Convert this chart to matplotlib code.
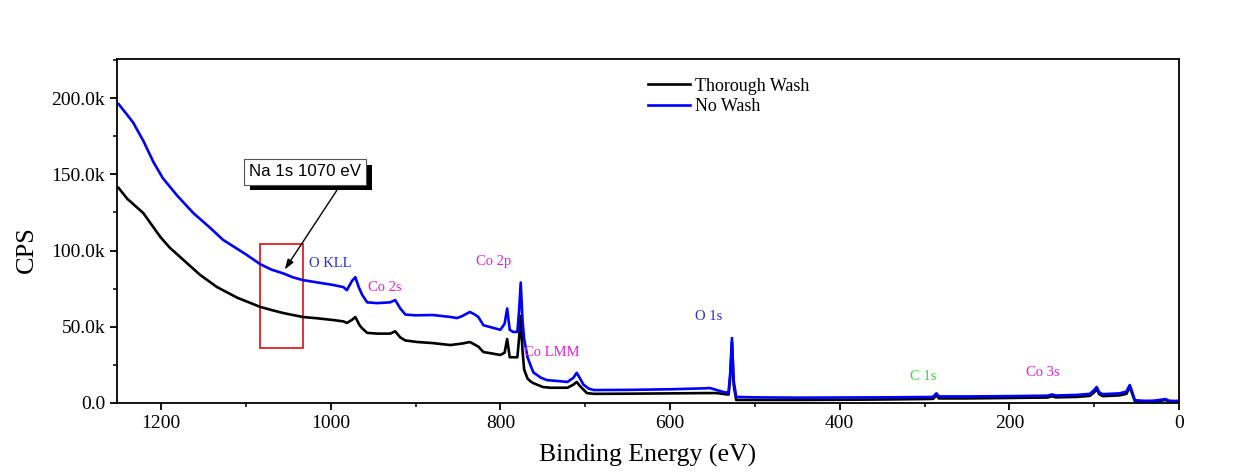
import matplotlib
matplotlib.use('Agg')
import matplotlib.pyplot as plt
from matplotlib.ticker import MultipleLocator, FuncFormatter
from matplotlib.patches import Rectangle
import matplotlib.patheffects as pe

# XPS survey, No Wash sample (binding energy in eV, counts in kCPS)
energy_nw = [1250, 1240, 1233, 1221, 1209, 1198, 1181, 1162, 1142, 1127, 1100,
             1083, 1070, 1056, 1045, 1033, 1015, 997, 985, 981, 975, 971, 967, 963,
             957, 945, 930, 924, 918, 912, 900, 880, 860, 851, 845, 836, 830, 826,
             820, 810, 800, 795, 792, 789, 785, 780, 778, 776, 774, 772, 768, 764,
             761, 752, 745, 730, 721, 714, 710, 706, 702, 696, 690, 650, 600, 560,
             553, 545, 537, 531, 529, 527, 525, 522, 500, 450, 400, 350, 300, 290,
             286, 283, 250, 200, 155, 150, 145, 120, 105, 100, 97, 94, 90, 70, 62,
             58, 55, 52, 40, 30, 20, 16, 12, 5, 0]
cps_nw = [196, 189, 184, 172, 158, 147.5, 136, 124.6, 114.8, 107, 97.5,
          91, 87.5, 85, 82.5, 80.6, 79, 77.4, 76, 74, 80, 82.5, 76, 71,
          66, 65.5, 66, 67.5, 62, 58, 57.5, 57.7, 56.5, 55.7, 57, 59.7, 58, 56.4,
          51, 49.5, 48, 52, 62, 48, 46.6, 46.6, 60, 79, 55, 42, 30, 24,
          20, 16.5, 15, 14.3, 13.8, 16.5, 19.8, 16, 12, 9.5, 8.5, 8.6, 9, 9.6,
          9.8, 8.5, 7.2, 6.8, 20, 42.6, 15, 4, 3.7, 3.5, 3.6, 3.7, 3.9, 4,
          6.3, 4.3, 4.3, 4.5, 4.8, 5.6, 4.9, 5.3, 6.0, 8.5, 10.5, 7, 5.8, 6.3, 7.5,
          11.8, 7, 1.8, 1.4, 1.5, 2.2, 2.6, 1.5, 1.3, 1.5]

# Thorough Wash sample
energy_tw = [1250, 1240, 1221, 1201, 1190, 1174, 1154, 1134, 1110, 1083, 1070, 1056,
             1033, 1015, 997, 985, 981, 975, 971, 966, 963, 957, 945, 930, 924,
             918, 912, 898, 880, 859, 845, 836, 826, 820, 810, 800, 795, 792, 789,
             785, 780, 778, 776, 774, 772, 768, 764, 761, 750, 741, 721, 714, 710,
             706, 698, 690, 650, 600, 560, 545, 531, 529, 527, 525, 522, 500, 450,
             400, 350, 300, 290, 286, 283, 250, 200, 155, 150, 145, 120, 105, 100,
             97, 94, 90, 70, 62, 58, 55, 52, 40, 30, 20, 16, 12, 5, 0]
cps_tw = [141, 134, 124.6, 109, 102, 94, 84, 76, 69, 63, 61, 59,
          56.4, 55.5, 54.4, 53.5, 52.5, 54.5, 56.4, 51, 49, 46, 45.5, 45.5, 47,
          43, 41, 40, 39.3, 38, 39, 40, 37, 33.4, 32.5, 31.5, 33, 42, 30,
          30, 30, 42, 57, 35, 22, 16, 14, 13, 10.5, 10, 10, 12, 13.8,
          11, 6.5, 6, 6.1, 6.3, 6.5, 6.5, 5.5, 17, 40, 12, 2, 2, 2,
          2.1, 2.3, 2.6, 2.7, 5, 3, 3, 3.3, 3.6, 4.4, 3.7, 4, 4.7, 7,
          9, 5.8, 4.5, 5, 6, 10.5, 5.8, 1.2, 0.9, 1, 1.6, 2, 1, 0.8, 1]

# peak labels: text, energy, height (kCPS), colour
peak_text = ['O KLL', 'Co 2s', 'Co 2p', 'Co LMM', 'O 1s', 'C 1s', 'Co 3s']
peak_x = [1000, 936, 808, 739, 554, 301, 161]
peak_y = [91.8, 76, 92.5, 32.8, 56.4, 17.7, 19.7]
peak_color = ['#2b2bd0', '#e020d8', '#e020d8', '#e020d8', '#2b2bd0', '#33dd33', '#e020d8']

serif = 'Liberation Serif'
plt.rcParams['font.family'] = serif

fig = plt.figure(figsize=(12.43, 4.74), dpi=100)
ax = fig.add_axes([0.0941, 0.1498, 0.8544, 0.7257])

ax.plot(energy_tw, [v * 1000 for v in cps_tw], color='black', lw=1.9, label='Thorough Wash')
ax.plot(energy_nw, [v * 1000 for v in cps_nw], color='#0000ff', lw=1.9, label='No Wash')

ax.set_xlim(1252, 0)
ax.set_ylim(0, 225600)

ax.xaxis.set_major_locator(MultipleLocator(200))
ax.xaxis.set_minor_locator(MultipleLocator(100))
ax.yaxis.set_major_locator(MultipleLocator(50000))
ax.yaxis.set_minor_locator(MultipleLocator(25000))
ax.yaxis.set_major_formatter(FuncFormatter(lambda v, p: '0.0' if v == 0 else f'{v / 1000:.1f}k'))
ax.tick_params(which='major', direction='out', length=5, width=1.3, labelsize=14)
ax.tick_params(which='minor', direction='out', length=3, width=1.1)
for s in ax.spines.values():
    s.set_linewidth(1.3)

ax.set_xlabel('Binding Energy (eV)', fontsize=18.5, labelpad=9)
ax.set_ylabel('CPS', fontsize=19)
ax.yaxis.set_label_coords(-0.0744, 0.445)

for t, x, y, c in zip(peak_text, peak_x, peak_y, peak_color):
    ax.text(x, y * 1000, t, color=c, fontsize=10.5, ha='center', va='center')

# Na 1s region marker
ax.add_patch(Rectangle((1033, 36000), 50, 68000, fill=False, edgecolor='#e02020', lw=1.3))
ax.annotate('', xy=(1056, 86000), xytext=(991, 141000),
            arrowprops=dict(arrowstyle='-|>,head_length=0.6,head_width=0.2', color='black', lw=1))
box = ax.text(1030, 151500, 'Na 1s 1070 eV', family='Liberation Sans', fontsize=12.2,
              ha='center', va='center',
              bbox=dict(boxstyle='square,pad=0.3', fc='white', ec='#555555', lw=0.8))
box.get_bbox_patch().set_path_effects([pe.withSimplePatchShadow(offset=(4, -4), shadow_rgbFace='black', alpha=1)])

ax.legend(loc='upper left', bbox_to_anchor=(0.5, 0.946), frameon=False, fontsize=13,
          handlelength=2.3, handletextpad=0.28, labelspacing=0.2, borderpad=0, borderaxespad=0)

fig.savefig('out.png', dpi=100)
